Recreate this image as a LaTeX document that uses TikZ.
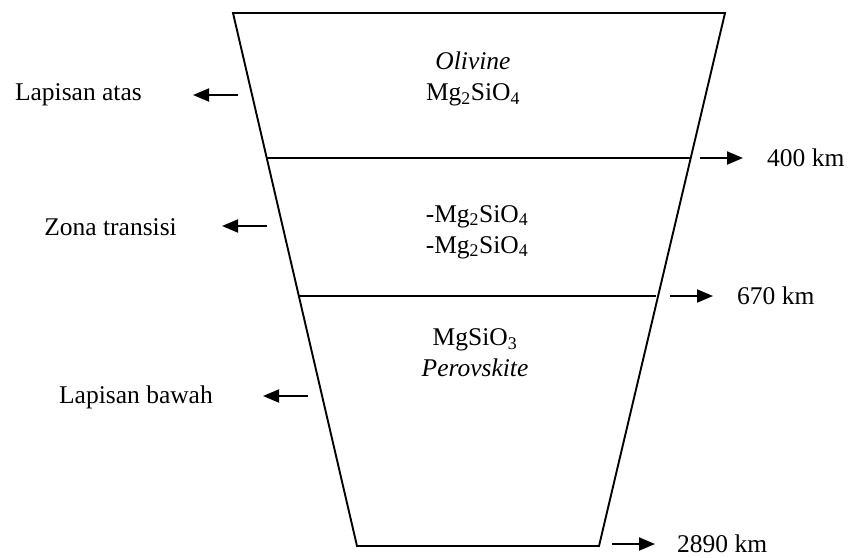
\documentclass[tikz,border=0pt]{standalone}
\usepackage{fontspec}
\setmainfont{Liberation Serif}
\usetikzlibrary{arrows.meta}
\tikzset{
  lbl/.style={inner sep=0pt, font=\fontsize{25.5}{30}\selectfont},
  mid/.style={inner sep=0pt, align=center, font=\fontsize{25.5}{31}\selectfont},
  edge/.style={line width=1.9pt, line join=miter},
  arr/.style={line width=1.9pt, -{Triangle[length=16pt,width=13pt]}}
}
\begin{document}
\begin{tikzpicture}[x=1pt,y=-1pt]
\useasboundingbox (0,0) rectangle (850,557);
% trapezoid corners
\coordinate (tl) at (233,13);
\coordinate (tr) at (725,13);
\coordinate (bl) at (357,546);
\coordinate (br) at (599,546);
\draw[edge] (tl) -- (tr) -- (br) -- (bl) -- cycle;
% boundaries
\coordinate (a1) at (267,158);
\coordinate (a2) at (690,158);
\coordinate (b1) at (299,296);
\coordinate (b2) at (656,296);
\draw[edge] (a1) -- (a2);
\draw[edge] (b1) -- (b2);
% layer texts
\node[mid] (ol) at (473,79) {\textit{Olivine}\\Mg\textsubscript{2}SiO\textsubscript{4}};
\node[mid] (tz) at (477,232) {-Mg\textsubscript{2}SiO\textsubscript{4}\\-Mg\textsubscript{2}SiO\textsubscript{4}};
\node[mid] (pv) at (475,353) {MgSiO\textsubscript{3}\\\textit{Perovskite}};
% left labels
\node[lbl, anchor=east] (la) at (142,95) {Lapisan atas};
\node[lbl, anchor=east] (zt) at (177,227) {Zona transisi};
\node[lbl, anchor=east] (lb) at (213,397) {Lapisan bawah};
\coordinate (la0) at (238,95);  \coordinate (la1) at (193,95);
\coordinate (zt0) at (267,226); \coordinate (zt1) at (222,226);
\coordinate (lb0) at (308,396); \coordinate (lb1) at (263,396);
\draw[arr] (la0) -- (la1);
\draw[arr] (zt0) -- (zt1);
\draw[arr] (lb0) -- (lb1);
% right labels
\node[lbl, anchor=west] (k400) at (767,158) {400 km};
\node[lbl, anchor=west] (k670) at (737,296) {670 km};
\node[lbl, anchor=west] (k2890) at (677,544) {2890 km};
\coordinate (r10) at (700,158); \coordinate (r11) at (743,158);
\coordinate (r20) at (670,296); \coordinate (r21) at (713,296);
\coordinate (r30) at (612,544); \coordinate (r31) at (655,544);
\draw[arr] (r10) -- (r11);
\draw[arr] (r20) -- (r21);
\draw[arr] (r30) -- (r31);
\end{tikzpicture}
\end{document}
